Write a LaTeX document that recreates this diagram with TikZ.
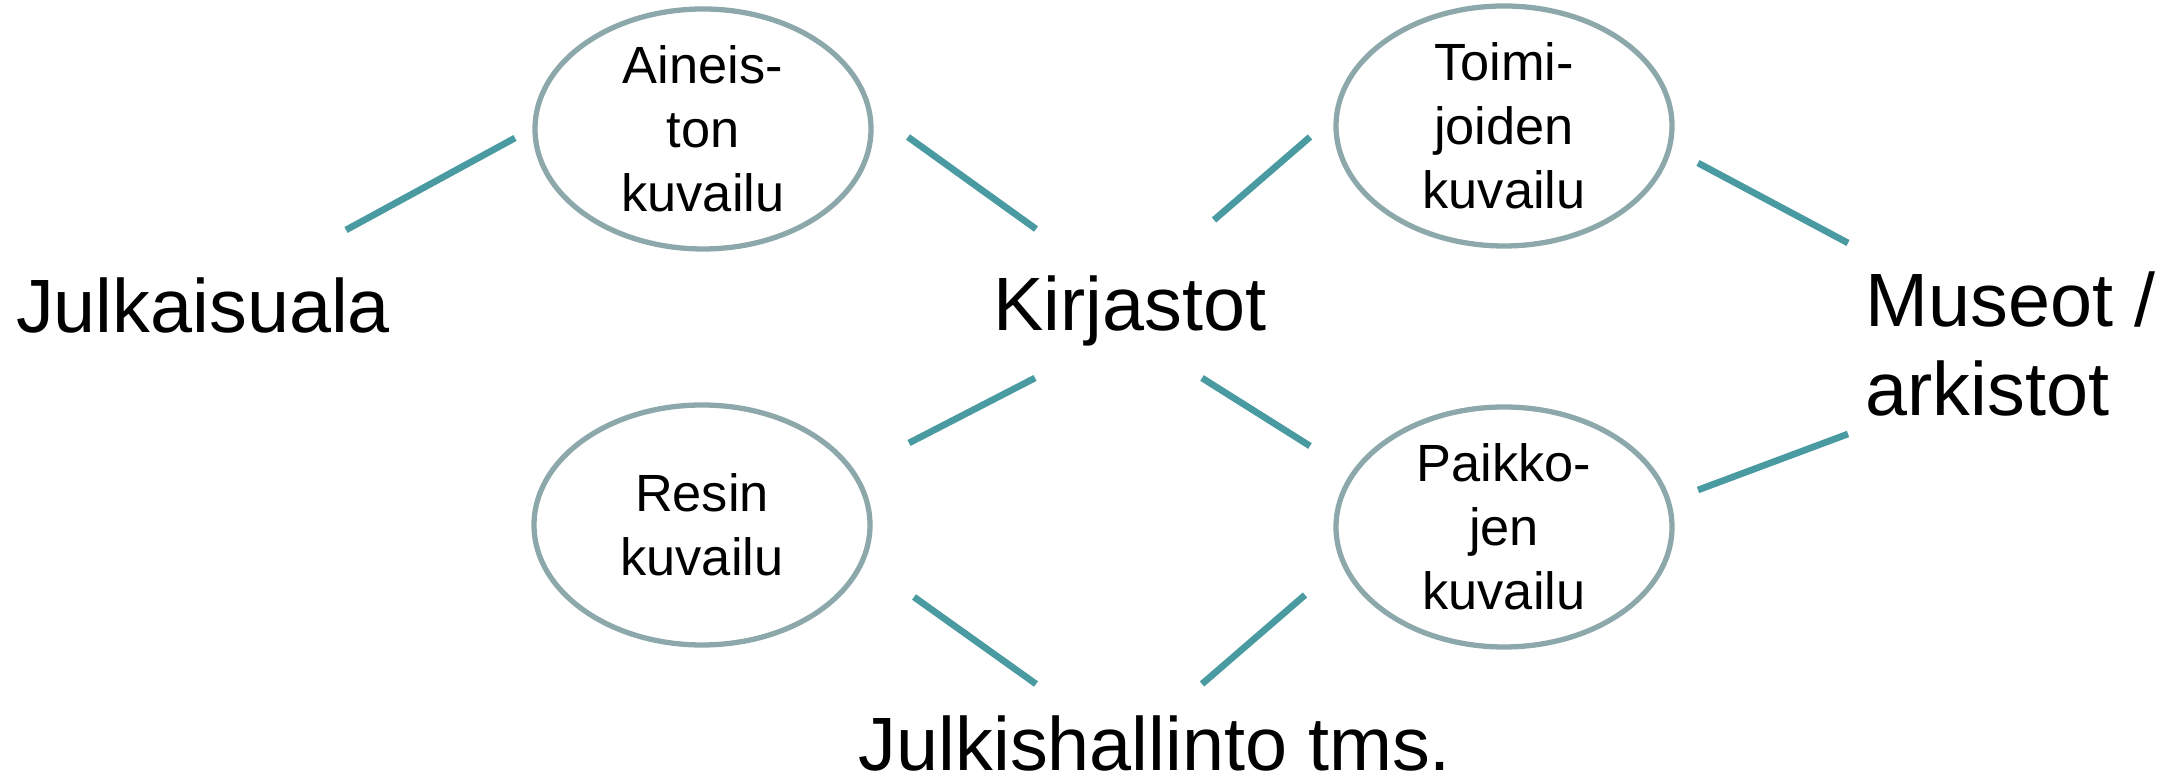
\documentclass[tikz,border=0pt]{standalone}
\usepackage{fontspec}
\setmainfont{Liberation Sans}
\usepackage{tikz}
\usetikzlibrary{positioning, shapes.geometric}

\definecolor{linkteal}{RGB}{74,155,161}
\definecolor{ovalgray}{RGB}{140,168,170}

\begin{document}
\begin{tikzpicture}[x=0.1mm, y=-0.1mm,
    oval/.style={draw=ovalgray, line width=1.5pt, ellipse, minimum width=3.36cm, minimum height=2.4cm, inner sep=0pt, align=center, font=\fontsize{14.9}{18.2}\selectfont},
    field/.style={inner sep=0pt, font=\fontsize{21.5}{25.6}\selectfont},
    link/.style={draw=linkteal, line width=1.9pt}]
    \useasboundingbox (0,0) rectangle (2172,780);

    % Alat
    \node[field, anchor=base] (julkaisu) at (203,333) {Julkaisuala};
    \node[field, anchor=base] (kirjasto) at (1130,331) {Kirjastot};
    \node[field, anchor=west, align=left] (museo) at (1865,344) {Museot /\\arkistot};
    \node[field, anchor=base] (hallinto) at (1155,771) {Julkishallinto tms.};

    % Kuvailut
    \node[oval] (aineisto) at (703,129) {Aineis-\\ton\\kuvailu};
    \node[oval] (toimija) at (1504,126) {Toimi-\\joiden\\kuvailu};
    \node[oval] (resi) at (702,525) {Resin\\kuvailu};
    \node[oval] (paikka) at (1504,527) {Paikko-\\jen\\kuvailu};

    % Viivojen päät
    \coordinate (l1a) at (346,230);  \coordinate (l1b) at (515,138);   % julkaisu - aineisto
    \coordinate (l2a) at (908,137);  \coordinate (l2b) at (1036,229);  % aineisto - kirjasto
    \coordinate (l3a) at (1214,220); \coordinate (l3b) at (1310,137);  % kirjasto - toimija
    \coordinate (l4a) at (1698,163); \coordinate (l4b) at (1848,243);  % toimija - museo
    \coordinate (l5a) at (1035,378); \coordinate (l5b) at (909,443);   % kirjasto - resi
    \coordinate (l6a) at (1202,378); \coordinate (l6b) at (1310,446);  % kirjasto - paikka
    \coordinate (l7a) at (1698,490); \coordinate (l7b) at (1848,434);  % paikka - museo
    \coordinate (l8a) at (914,597);  \coordinate (l8b) at (1036,684);  % resi - hallinto
    \coordinate (l9a) at (1305,595); \coordinate (l9b) at (1202,684);  % paikka - hallinto

    % Viivat
    \foreach \i in {1,...,9}
        \draw[link] (l\i a) -- (l\i b);
\end{tikzpicture}
\end{document}
